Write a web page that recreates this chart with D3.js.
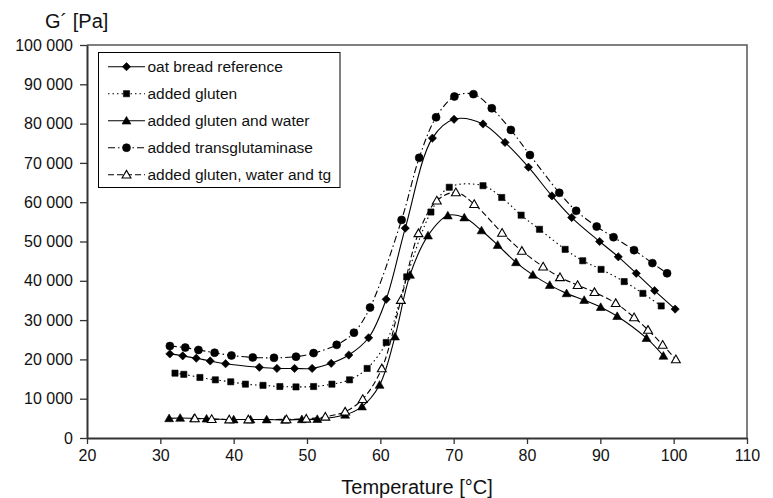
<!DOCTYPE html>
<html lang="en">
<head>
<meta charset="UTF-8">
<title>G´ vs temperature</title>
<script src="https://d3js.org/d3.v7.min.js"></script>
<style>
    body { margin: 0; background: #fff; }
    svg text { font-family: "Liberation Sans", Arial, sans-serif; fill: #111; }
    .series { fill: none; stroke: #000; stroke-width: 1.1px; }
</style>
</head>
<body>
<svg width="773" height="498"></svg>
<script>
// series values: temperature [°C] and G´ [Pa]
const refT = [31.3, 33.05, 34.9, 36.8, 38.9, 43.5, 45.9, 48.3, 50.7, 53.3, 55.7, 58.4, 60.8, 63.4, 67.1, 70.05, 74.0, 77.0, 80.2, 83.4, 86.1, 89.9, 92.45, 94.9, 97.4, 100.2];
const refG = [21400, 20900, 20300, 19600, 18900, 18000, 17700, 17700, 17700, 19000, 21100, 25500, 35300, 53400, 76300, 81100, 79900, 75200, 68900, 61600, 56100, 50000, 46100, 41900, 37500, 32800];

const glutenT = [32.0, 33.2, 35.4, 37.5, 39.6, 41.6, 44.0, 46.3, 48.5, 50.9, 53.4, 55.8, 58.2, 60.8, 63.6, 66.9, 69.4, 74.0, 76.55, 79.2, 81.7, 85.2, 87.6, 90.1, 93.25, 95.8, 98.3];
const glutenG = [16500, 16200, 15400, 14800, 14300, 13700, 13400, 13100, 13000, 13100, 13700, 14800, 17700, 24300, 41000, 57500, 63800, 64200, 61200, 56700, 53100, 48000, 45100, 42900, 39800, 36800, 33600];

const waterT = [31.2, 32.7, 34.6, 36.3, 40.0, 42.3, 44.5, 47.0, 49.3, 51.4, 55.2, 57.5, 59.9, 62.0, 64.05, 66.5, 69.2, 71.45, 73.8, 76.0, 78.5, 80.8, 83.1, 85.4, 87.8, 90.05, 92.3, 96.3, 98.6];
const waterG = [5000, 5100, 5000, 4900, 4700, 4700, 4700, 4600, 4750, 4800, 5900, 8000, 13500, 25800, 41500, 51500, 56600, 56100, 52800, 49100, 44700, 41500, 38900, 36800, 35100, 33300, 31000, 25400, 20900];

const tgT = [31.3, 33.4, 35.2, 37.4, 39.7, 42.6, 45.5, 48.5, 50.9, 54.05, 56.4, 58.6, 62.9, 65.3, 67.6, 70.1, 72.7, 75.2, 77.8, 80.4, 84.4, 86.7, 89.5, 91.8, 94.6, 97.1, 99.1];
const tgG = [23400, 23000, 22400, 21700, 21000, 20500, 20400, 20700, 21600, 23700, 26800, 33200, 55500, 71300, 81600, 86900, 87500, 83900, 78400, 72000, 62400, 57800, 53800, 51100, 47800, 44500, 41900];

const allT = [34.7, 37.0, 39.4, 42.0, 47.2, 49.9, 52.5, 55.2, 57.6, 60.2, 62.8, 65.2, 67.7, 70.3, 72.8, 76.6, 79.3, 82.2, 84.5, 86.9, 89.2, 92.1, 94.6, 96.5, 98.5, 100.3];
const allG = [5000, 4800, 4700, 4700, 4750, 4900, 5400, 6700, 9900, 17700, 35100, 52100, 60400, 62500, 59500, 52200, 47600, 43600, 40900, 38900, 37100, 34300, 30700, 27500, 23700, 20000];

const seriesNames = ["oat bread reference", "added gluten", "added gluten and water", "added transglutaminase", "added gluten, water and tg"];
const xTicks = [20, 30, 40, 50, 60, 70, 80, 90, 100, 110];
const yTicks = [0, 10000, 20000, 30000, 40000, 50000, 60000, 70000, 80000, 90000, 100000];

const seriesData = [[refT, refG], [glutenT, glutenG], [waterT, waterG], [tgT, tgG], [allT, allG]];

// look of each series (marker, dash, fill)
const styles = [
    { marker: "diamond", dash: null, fill: "#000" },
    { marker: "square", dash: "1.5,3", fill: "#000" },
    { marker: "triangle", dash: null, fill: "#000" },
    { marker: "circle", dash: "7,3,1.5,3", fill: "#000" },
    { marker: "triangle", dash: "6,3", fill: "#fff" }
];

const svg = d3.select("svg");
const plotLeft = 87, plotRight = 747, plotTop = 45, plotBottom = 438;

const x = d3.scaleLinear().domain([20, 110]).range([plotLeft, plotRight]);
const y = d3.scaleLinear().domain([0, 100000]).range([plotBottom, plotTop]);

const fmt = d3.formatLocale({ decimal: ".", thousands: " ", grouping: [3], currency: ["", ""] }).format(",d");

// frame on top and right
svg.append("path")
    .attr("d", `M${plotLeft},${plotTop}H${plotRight}V${plotBottom}`)
    .attr("fill", "none").attr("stroke", "#555").attr("stroke-width", 1.5);

const xAxis = svg.append("g").attr("transform", `translate(0,${plotBottom})`)
    .call(d3.axisBottom(x).tickValues(xTicks).tickSize(6).tickSizeOuter(0).tickPadding(6));
const yAxis = svg.append("g").attr("transform", `translate(${plotLeft},0)`)
    .call(d3.axisLeft(y).tickValues(yTicks).tickFormat(fmt).tickSize(7).tickSizeOuter(0).tickPadding(7));

[xAxis, yAxis].forEach(g => {
    g.select(".domain").attr("stroke", "#333").attr("stroke-width", 2);
    g.selectAll(".tick line").attr("stroke", "#333").attr("stroke-width", 1.3);
    g.selectAll(".tick text").attr("font-size", 16).attr("fill", "#111")
        .style("font-family", "'Liberation Sans', Arial, sans-serif");
});

// axis titles
svg.append("text").attr("x", 417).attr("y", 494).attr("text-anchor", "middle")
    .attr("font-size", 20).text("Temperature [°C]");
svg.append("text").attr("x", 45).attr("y", 28).attr("font-size", 20).text("G´ [Pa]");

function markerPath(kind) {
    if (kind === "diamond") return d3.symbol(d3.symbolSquare, 34)();
    if (kind === "square") return d3.symbol(d3.symbolSquare, 38)();
    if (kind === "circle") return d3.symbol(d3.symbolCircle, 50)();
    return d3.symbol(d3.symbolTriangle, 34)();
}

function drawMarker(g, kind, fill, cx, cy) {
    g.append("path")
        .attr("d", markerPath(kind))
        .attr("transform", `translate(${cx},${cy})` + (kind === "diamond" ? " rotate(45)" : "") + (kind === "triangle" ? " translate(0,0.8)" : ""))
        .attr("fill", fill)
        .attr("stroke", "#000")
        .attr("stroke-width", fill === "#fff" ? 1.1 : 0.6);
}

const line = d3.line().curve(d3.curveCatmullRom.alpha(0.5));

seriesData.forEach((s, i) => {
    const pts = s[0].map((t, k) => [x(t), y(s[1][k])]);
    const g = svg.append("g");
    g.append("path").attr("class", "series")
        .attr("d", line(pts))
        .attr("stroke-dasharray", styles[i].dash);
    pts.forEach(p => drawMarker(g, styles[i].marker, styles[i].fill, p[0], p[1]));
});

// legend
const legend = svg.append("g");
legend.append("rect").attr("x", 98.5).attr("y", 52.5).attr("width", 241.5).attr("height", 135)
    .attr("fill", "#fff").attr("stroke", "#000").attr("stroke-width", 1);
seriesNames.forEach((name, i) => {
    const cy = 66.7 + i * 27;
    legend.append("line").attr("x1", 108).attr("x2", 145).attr("y1", cy).attr("y2", cy)
        .attr("stroke", "#000").attr("stroke-width", 1.1).attr("stroke-dasharray", styles[i].dash);
    drawMarker(legend, styles[i].marker, styles[i].fill, 126.5, cy);
    legend.append("text").attr("x", 147.5).attr("y", cy + 5.5).attr("font-size", 15.5).text(name);
});
</script>
</body>
</html>
